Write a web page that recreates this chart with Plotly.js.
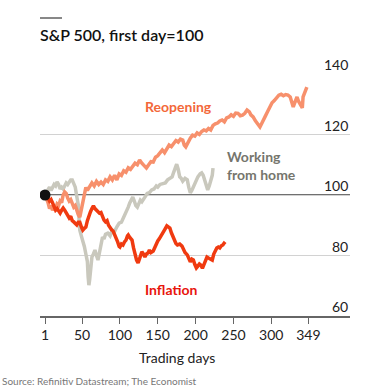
<!DOCTYPE html>
<html>
<head>
<meta charset="utf-8">
<script src="https://cdn.plot.ly/plotly-3.0.1.min.js"></script>
<style>html,body{margin:0;padding:0;background:#fff;}#chart{width:386px;height:389px;}</style>
</head>
<body>
<div id="chart"></div>
<script>
// Reopening stocks
const reopenDays = [1,3,5,7,9,11,13,15,17,19,21,23,25,27,29,31,33,35,37,39,41,43,45,47,49,51,53,55,57,60,63,66,69,72,75,78,81,84,87,90,93,96,99,102,105,108,111,114,117,120,123,126,129,132,135,138,141,144,147,150,153,156,159,162,165,168,171,174,177,180,183,185,187,190,193,196,199,202,205,208,211,214,217,220,223,226,229,232,235,238,241,244,247,250,253,256,259,262,265,268,271,273,276,279,281,283,285,287,289,292,295,298,301,304,307,310,313,316,319,322,325,327,329,331,334,336,338,340,341,342,344,345,347];
const reopenVals = [100,99,97.5,95.5,96.5,95,96,95.5,97,96.5,98,97.5,100,101,100.5,99,98,98.5,97,96,96.5,94.5,93.5,92.7,95,97.5,100.5,102.5,101.5,103,104,103,104.5,103.5,104.3,103.5,105,104.5,106,105,106.5,105,107,106.5,108,107.5,109,108.5,109.3,110.5,110,111.6,110.5,109.5,108.9,110,111,110.9,112.5,113,114,114.9,114,115.5,116.5,116,117.2,118,117.5,118.5,118.2,116.5,115.9,117.5,118.8,119.8,119.5,120.5,120,121,121.5,121.2,122,121.5,123,123.5,123.8,124.5,124.8,124.2,125.5,125.8,126.5,126,127.1,127,126.2,126.4,127,128.1,127.5,126.5,125.8,124.5,123.8,123,122.5,123.5,124.8,126,127.5,129,130.5,131.2,132,133,133.3,132.8,133.2,133,132.4,131,129.1,130.5,132.4,131,130,129.5,128.8,132.4,133.8,134.7,135.7];

// Working-from-home stocks
const wfhDays = [1,3,5,7,9,11,13,15,17,19,21,23,25,27,29,31,33,35,37,39,41,43,45,46,47,49,51,53,55,57,58,59,60,61,62,63,65,67,69,71,73,75,77,79,81,84,87,90,93,96,99,102,105,108,111,113,115,117,119,121,123,125,127,129,131,133,136,139,142,145,148,150,153,156,160,163,166,169,171,173,175,177,179,181,183,186,189,191,193,195,197,200,203,206,208,210,212,214,216,218,220,222,223];
const wfhVals = [100,101,102,102.6,101.5,102.8,103.5,103,104.3,103.5,102,102.6,102,103,104,103.5,104.5,105,105,104,102.6,99.5,96.7,92,88.4,86.5,85.1,83,80.5,78,73,70.2,72,74.2,77,79.5,80.5,81.8,80,78.5,81,84,86.1,85.5,87,87.4,86.5,88.4,88,89.5,90.7,91,92.5,94,96,97.4,98.5,99.3,98,96.5,96,97,98.3,97.8,98.8,99.3,100.5,100.8,101.7,102,103,102.6,103.5,103.8,104,105,105.5,106,107.5,109,110.2,108.5,106,105.5,104.6,105.5,105,102.5,100.7,101.5,102.6,104.5,106,107,107.3,106.5,105,103,101.7,103,105,106.5,108.9];

// Inflation stocks
const inflDays = [1,3,5,7,9,11,13,15,17,19,21,23,25,27,29,31,33,35,37,39,41,43,45,47,49,51,53,55,57,59,61,63,65,67,69,71,73,75,77,79,81,83,85,87,89,91,93,95,97,99,100,102,104,106,108,110,111,113,115,116,118,120,122,124,126,128,129,131,133,135,137,139,141,144,146,148,150,152,154,157,159,162,164,166,168,170,172,174,176,179,182,184,186,189,191,193,195,197,199,201,203,205,207,209,211,213,215,217,219,222,224,226,228,230,232,234,236,238,239];
const inflVals = [100,99.5,99,98,98.5,97.4,96,95,95.5,94.5,94,95,95.7,95,94,93.5,92.4,93,91.5,91.1,90.5,90.1,91,91,89.5,88.4,89,89.4,91.5,93.5,94.4,95.5,96.4,95.5,95,94.5,94,94.2,92.5,91.7,91.1,91.5,90,89,88.5,88.1,87,86.1,84.5,83,82.8,83.8,83.5,84.5,85.1,86.5,86.8,86,85.5,85.1,82.5,80.2,78.5,77.5,79,81,81.2,80.5,79.5,80.5,80.8,81.8,81,81.5,82.8,84,84.8,85.5,86.5,87.8,88.5,89.8,89.5,89.1,87.5,86.4,85,84,83.5,83.8,83.1,82,81,80.2,79,77.9,78.8,78.5,77,75.9,76.5,77.2,76.8,75.8,77,78.5,79.5,79.2,78.8,78.5,80.5,81.8,82.5,82.8,82.5,83.2,83.5,84.2,84.5];

const xTicks = [1,50,100,150,200,250,300,349];
const xTickText = ['1','50','100','150','200','250','300','349'];
const yTicks = [60,80,100,120,140];
const yTickText = ['60','80','100','120','140'];

const titleText = 'S&P 500, first day=100';
const xTitle = 'Trading days';
const sourceText = 'Source: Refinitiv Datastream; The Economist';
const seriesNames = ['Reopening','Working<br>from home','Inflation'];

const FONT = 'Lato, "Open Sans", sans-serif';
const cReopen = '#F7906C', cReopenLbl = '#F3683A';
const cWfh = '#C9C8BD', cWfhLbl = '#75756D';
const cInfl = '#F03A10', cInflLbl = '#E8140C';

const traces = [
  {x: wfhDays, y: wfhVals, type:'scatter', mode:'lines', line:{color:cWfh, width:3.5}, hoverinfo:'skip'},
  {x: reopenDays, y: reopenVals, type:'scatter', mode:'lines', line:{color:cReopen, width:3.5}, hoverinfo:'skip'},
  {x: inflDays, y: inflVals, type:'scatter', mode:'lines', line:{color:cInfl, width:3.5}, hoverinfo:'skip'},
  {x: [reopenDays[0]], y: [reopenVals[0]], type:'scatter', mode:'markers', marker:{color:'#111', size:11}, hoverinfo:'skip'}
];

const annotations = [];
yTicks.forEach((v,i)=>{
  annotations.push({xref:'paper', x:1, yref:'y', y:v, xanchor:'right', yanchor:'bottom', yshift:-1, text:yTickText[i], showarrow:false, font:{family:FONT, size:14, color:'#222'}});
});
annotations.push({xref:'x', x:177, yref:'y', y:129.4, text:seriesNames[0], showarrow:false, xanchor:'center', yanchor:'middle', font:{family:FONT, size:14, color:cReopenLbl, weight:700}});
annotations.push({xref:'x', x:239, yref:'y', y:109.8, text:seriesNames[1], showarrow:false, xanchor:'left', yanchor:'middle', align:'left', font:{family:FONT, size:14, color:cWfhLbl, weight:700}});
annotations.push({xref:'x', x:167, yref:'y', y:68.6, text:seriesNames[2], showarrow:false, xanchor:'center', yanchor:'middle', font:{family:FONT, size:14, color:cInflLbl, weight:700}});
annotations.push({xref:'paper', x:0.442, yref:'paper', y:-0.17, text:xTitle, showarrow:false, xanchor:'center', yanchor:'middle', font:{family:FONT, size:14, color:'#222'}});
annotations.push({xref:'paper', x:-40/310, yref:'paper', y:(316-389)/242, text:sourceText, showarrow:false, xanchor:'left', yanchor:'bottom', font:{family:FONT, size:10, color:'#777'}});

const layout = {
  width:386, height:389,
  margin:{l:40, r:36, t:74, b:73},
  paper_bgcolor:'#fff', plot_bgcolor:'#fff',
  showlegend:false,
  title:{text:titleText, xref:'container', yref:'container', x:40/386, xanchor:'left', y:1-35/389, yanchor:'middle', font:{family:FONT, size:16, color:'#111', weight:600}},
  xaxis:{range:[-5.6,404], tickvals:xTicks, ticktext:xTickText, showgrid:false, zeroline:false, showline:true, linecolor:'#666', linewidth:1.5, ticks:'outside', ticklen:6, tickcolor:'#666', tickwidth:1, tickfont:{family:FONT, size:14, color:'#222'}, fixedrange:true},
  yaxis:{range:[60,140], tickvals:yTicks, showticklabels:false, showgrid:true, gridcolor:'#d2d2d2', gridwidth:1, zeroline:false, showline:false, ticks:'', fixedrange:true},
  shapes:[
    {type:'line', xref:'paper', x0:0, x1:1, yref:'y', y0:100, y1:100, line:{color:'#707070', width:2}, layer:'below'},
    {type:'line', xref:'paper', x0:0, x1:22/310, yref:'paper', y0:(316-18)/242, y1:(316-18)/242, line:{color:'#111', width:1}}
  ],
  annotations:annotations
};

Plotly.newPlot('chart', traces, layout, {staticPlot:true, displayModeBar:false});
</script>
</body>
</html>
